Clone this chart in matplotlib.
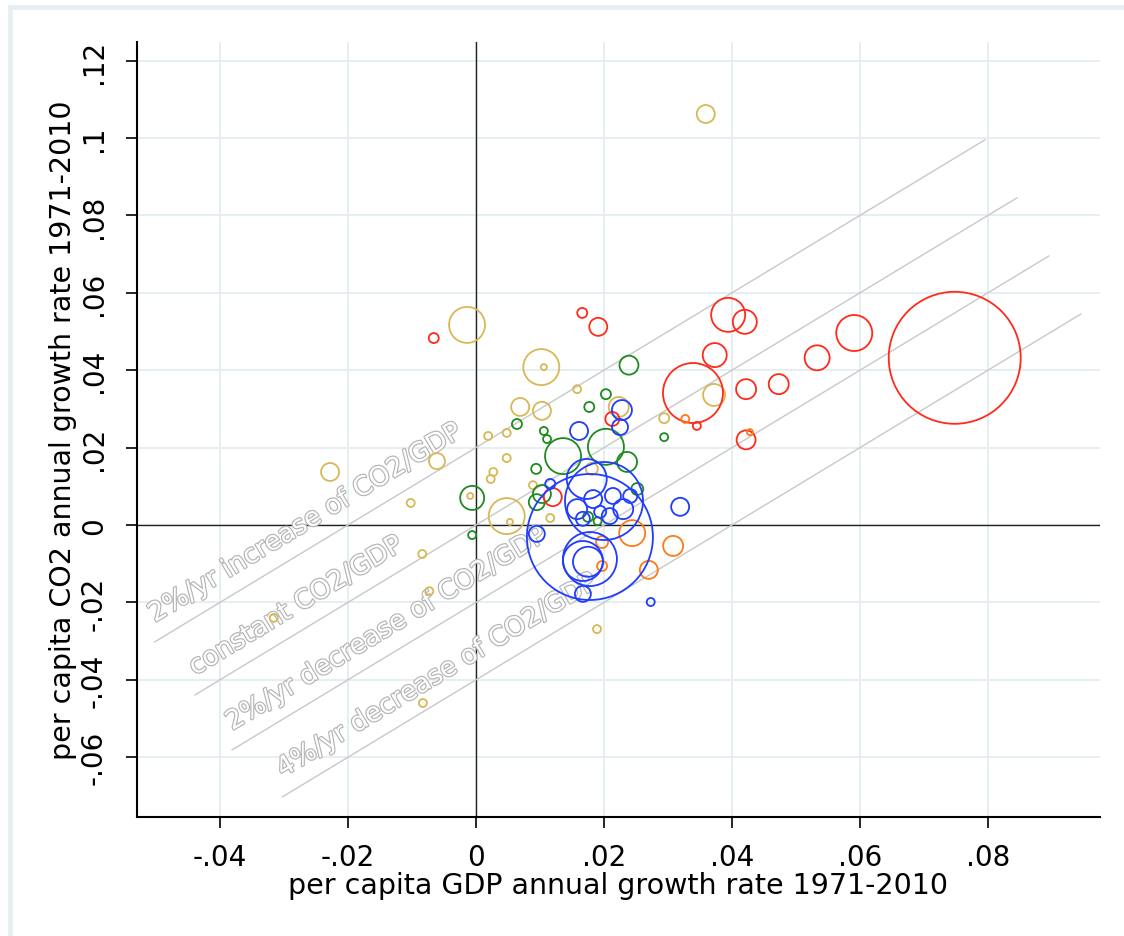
import matplotlib
matplotlib.use("Agg")
import matplotlib.pyplot as plt
import matplotlib.patheffects as pe
from matplotlib.lines import Line2D

# ---------------- data ----------------
# GDP growth (x), CO2 growth (y), relative weight (marker area units)
red_x = [-0.0066, 0.0166, 0.0191, 0.0394, 0.0420, 0.0591, 0.0748, 0.0339, 0.0373, 0.0422, 0.0473, 0.0533, 0.0422, 0.0345, 0.0213, 0.0120]
red_y = [0.0483, 0.0548, 0.0512, 0.0543, 0.0525, 0.0496, 0.0432, 0.0341, 0.0439, 0.0351, 0.0364, 0.0432, 0.0220, 0.0256, 0.0274, 0.0072]
red_w = [25, 25, 81, 289, 144, 324, 4356, 900, 144, 100, 100, 156, 90, 16, 49, 81]

orange_x = [0.0244, 0.0308, 0.0270, 0.0197, 0.0197, 0.0327, 0.0428]
orange_y = [-0.0021, -0.0054, -0.0116, -0.0044, -0.0106, 0.0274, 0.0240]
orange_w = [169, 100, 81, 36, 25, 16, 9]

green_x = [0.0239, 0.0203, 0.0177, 0.0064, 0.0106, 0.0111, 0.0294, 0.0136, 0.0203, 0.0236, 0.0094, -0.0006, -0.0006, 0.0103, 0.0095, 0.0252, 0.0175, 0.0190]
green_y = [0.0413, 0.0338, 0.0305, 0.0261, 0.0243, 0.0222, 0.0227, 0.0178, 0.0202, 0.0163, 0.0145, 0.0070, -0.0026, 0.0080, 0.0059, 0.0093, 0.0021, 0.0010]
green_w = [90, 25, 25, 25, 16, 16, 16, 324, 324, 100, 25, 144, 16, 81, 64, 36, 25, 16]

gold_x = [0.0359, -0.0014, 0.0102, 0.0106, 0.0158, 0.0069, 0.0103, 0.0294, 0.0372, 0.0019, 0.0048, 0.0048, 0.0027, 0.0023, 0.0089, 0.0048, 0.0053, 0.0116, -0.0228, -0.0061, -0.0102, -0.0009, -0.0084, -0.0073, -0.0316, -0.0083, 0.0189, 0.0223, 0.0181]
gold_y = [0.1062, 0.0517, 0.0408, 0.0408, 0.0351, 0.0305, 0.0295, 0.0276, 0.0336, 0.0230, 0.0238, 0.0173, 0.0137, 0.0119, 0.0103, 0.0023, 0.0008, 0.0018, 0.0137, 0.0165, 0.0057, 0.0075, -0.0075, -0.0171, -0.0240, -0.0460, -0.0269, 0.0305, 0.0145]
gold_w = [81, 324, 324, 9, 16, 81, 81, 25, 121, 16, 16, 16, 16, 16, 16, 324, 9, 16, 81, 64, 16, 9, 16, 16, 16, 16, 16, 100, 36]

blue_x = [0.0161, 0.0228, 0.0225, 0.0319, 0.0273, 0.0167, 0.0095, 0.0178, 0.0200, 0.0173, 0.0178, 0.0167, 0.0175, 0.0158, 0.0183, 0.0214, 0.0230, 0.0209, 0.0241, 0.0167, 0.0194, 0.0116]
blue_y = [0.0243, 0.0297, 0.0253, 0.0047, -0.0199, -0.0178, -0.0023, -0.0031, 0.0062, 0.0119, -0.0088, -0.0093, -0.0095, 0.0041, 0.0067, 0.0075, 0.0041, 0.0023, 0.0075, 0.0016, 0.0034, 0.0106]
blue_w = [81, 100, 64, 81, 16, 64, 64, 3969, 1521, 400, 729, 400, 225, 100, 81, 64, 100, 64, 49, 49, 36, 25]

x_ticks = [-0.04, -0.02, 0.0, 0.02, 0.04, 0.06, 0.08]
x_tick_labels = ["-.04", "-.02", "0", ".02", ".04", ".06", ".08"]
y_ticks = [-0.06, -0.04, -0.02, 0.0, 0.02, 0.04, 0.06, 0.08, 0.10, 0.12]
y_tick_labels = ["-.06", "-.04", "-.02", "0", ".02", ".04", ".06", ".08", ".1", ".12"]

# reference lines: y = x + offset, over x range
ref_offsets = [0.02, 0.0, -0.02, -0.04]
ref_x_start = [-0.0502, -0.0439, -0.0381, -0.0302]
ref_x_end = [0.0795, 0.0845, 0.0895, 0.0945]
ref_labels = ["2%/yr increase of CO2/GDP", "constant CO2/GDP",
              "2%/yr decrease of CO2/GDP", "4%/yr decrease of CO2/GDP"]

x_label = "per capita GDP annual growth rate 1971-2010"
y_label = "per capita CO2 annual growth rate 1971-2010"

# ---------------- style ----------------
plt.rcParams["font.family"] = ["DejaVu Sans"]

C_RED = "#ff2a1a"
C_ORANGE = "#ff7a12"
C_GREEN = "#1f8a1f"
C_GOLD = "#d8b855"
C_BLUE = "#1f3cff"
GRID = "#e3edf0"

fig = plt.figure(figsize=(11.24, 9.37), dpi=100)
fig.patch.set_facecolor("white")
ax = fig.add_axes([137/1124, 1-818/937, (1100-137)/1124, (818-43)/937])
ax.set_xlim(-0.05297, 0.0975)
ax.set_ylim(-0.07545, 0.1248)

# grid
for xt in x_ticks:
    ax.axvline(xt, color=GRID, lw=1.3, zorder=0)
for yt in y_ticks:
    ax.axhline(yt, color=GRID, lw=1.3, zorder=0)
ax.axvline(0, color="#222222", lw=1.0, zorder=1)
ax.axhline(0, color="#222222", lw=1.0, zorder=1)

# reference lines and labels
for off, xs, xe, lab in zip(ref_offsets, ref_x_start, ref_x_end, ref_labels):
    ax.plot([xs, xe], [xs + off, xe + off], color="#c8c8c8", lw=1.0, zorder=2)
    t = ax.text(xs, xs + off + 0.0050, lab, rotation=45,
                transform_rotates_text=True, rotation_mode="anchor",
                ha="left", va="baseline", fontsize=19, color="white", zorder=2.5)
    t.set_path_effects([pe.Stroke(linewidth=1.7, foreground="#b4b4b4"), pe.Normal()])

k = (2 / 1.389) ** 2
for xs, ys, ws, c in [(gold_x, gold_y, gold_w, C_GOLD), (green_x, green_y, green_w, C_GREEN),
                      (red_x, red_y, red_w, C_RED), (orange_x, orange_y, orange_w, C_ORANGE),
                      (blue_x, blue_y, blue_w, C_BLUE)]:
    ax.scatter(xs, ys, s=[w * k for w in ws], facecolors="none", edgecolors=c,
               linewidths=1.3, zorder=3)

# axes style
for s in ["top", "right"]:
    ax.spines[s].set_visible(False)
for s in ["left", "bottom"]:
    ax.spines[s].set_linewidth(1.5)
    ax.spines[s].set_color("black")
ax.set_xticks(x_ticks)
ax.set_xticklabels(x_tick_labels)
ax.set_yticks(y_ticks)
ax.set_yticklabels(y_tick_labels, rotation=90, va="center")
ax.tick_params(axis="both", length=8, width=1.2, direction="out", labelsize=20)
ax.tick_params(axis="x", pad=11)
ax.tick_params(axis="y", pad=13)
ax.set_xlabel(x_label, fontsize=20.5, labelpad=0)
ax.set_ylabel(y_label, fontsize=20.5, labelpad=2)

# outer frame band (top and left edges visible)
fig.add_artist(Line2D([10/1124, 10/1124], [0, 1-8/937], transform=fig.transFigure, color="#e6eff2", lw=3.5))
fig.add_artist(Line2D([10/1124, 1], [1-8/937, 1-8/937], transform=fig.transFigure, color="#e6eff2", lw=3.5))

fig.savefig("out.png", dpi=100, facecolor="white")
